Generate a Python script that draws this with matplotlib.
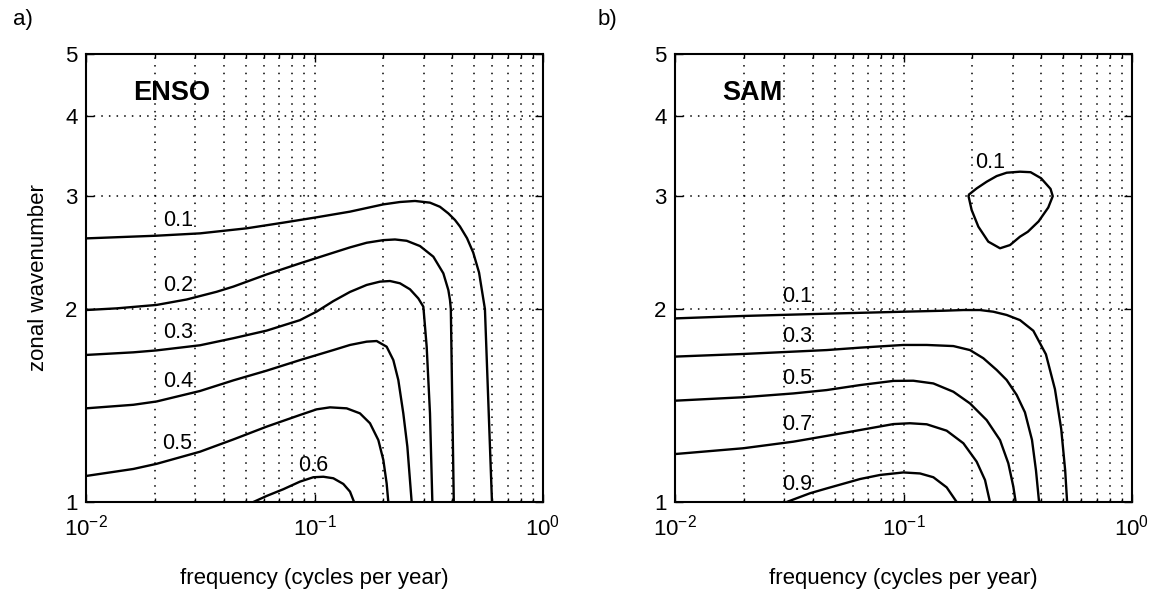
import matplotlib
matplotlib.use("Agg")
import matplotlib.pyplot as plt
from matplotlib.ticker import LogLocator, FixedLocator, NullLocator, FixedFormatter

plt.rcParams['font.family'] = ['Liberation Sans', 'DejaVu Sans']
plt.rcParams['mathtext.fontset'] = 'custom'
plt.rcParams['mathtext.rm'] = 'Liberation Sans'
plt.rcParams['mathtext.it'] = 'Liberation Sans:italic'
plt.rcParams['mathtext.bf'] = 'Liberation Sans:bold'

# ---------------- data (frequency in cycles/yr, zonal wavenumber) ----------------
# ENSO contours
enso_01_f = [0.01, 0.02038, 0.03154, 0.05047, 0.07305, 0.1022, 0.143, 0.2001, 0.2366, 0.2753,
             0.3202, 0.354, 0.3853, 0.412, 0.4333, 0.465, 0.495, 0.525, 0.557, 0.598]
enso_01_k = [2.578, 2.603, 2.625, 2.673, 2.728, 2.781, 2.838, 2.913, 2.938, 2.949,
             2.931, 2.888, 2.82, 2.754, 2.69, 2.58, 2.45, 2.28, 2.0, 1.0]

enso_02_f = [0.01, 0.01362, 0.02038, 0.02758, 0.03729, 0.04414, 0.06176, 0.08641, 0.1209, 0.143,
             0.1692, 0.2001, 0.2251, 0.2532, 0.2895, 0.3312, 0.3663, 0.3853, 0.3917, 0.395,
             0.401, 0.407]
enso_02_k = [1.993, 2.005, 2.030, 2.070, 2.128, 2.168, 2.265, 2.357, 2.449, 2.496,
             2.538, 2.562, 2.568, 2.556, 2.508, 2.414, 2.274, 2.141, 2.066, 2.0,
             1.408, 1.0]

enso_03_f = [0.01, 0.01611, 0.02038, 0.03154, 0.04414, 0.06176, 0.08641, 0.1022, 0.1209, 0.143,
             0.1692, 0.1934, 0.214, 0.2366, 0.2618, 0.2847, 0.2995, 0.3097, 0.3202, 0.3279]
enso_03_k = [1.696, 1.712, 1.724, 1.756, 1.801, 1.851, 1.922, 1.982, 2.058, 2.127,
             2.181, 2.207, 2.212, 2.194, 2.147, 2.078, 2.017, 1.747, 1.375, 1.0]

enso_04_f = [0.01, 0.01611, 0.02038, 0.03154, 0.04414, 0.06176, 0.08641, 0.1209, 0.143, 0.1692,
             0.1871, 0.2069, 0.2213, 0.2327, 0.2447, 0.2549, 0.2662]
enso_04_k = [1.400, 1.418, 1.435, 1.490, 1.548, 1.603, 1.665, 1.726, 1.758, 1.779,
             1.783, 1.747, 1.665, 1.550, 1.375, 1.220, 1.0]

enso_05_f = [0.01, 0.01611, 0.02038, 0.03154, 0.04414, 0.06176, 0.08641, 0.1022, 0.1169, 0.1383,
             0.1581, 0.1749, 0.1903, 0.2001, 0.2069, 0.2104]
enso_05_k = [1.098, 1.126, 1.147, 1.198, 1.252, 1.311, 1.367, 1.395, 1.405, 1.400,
             1.375, 1.327, 1.249, 1.163, 1.069, 1.0]

enso_06_f = [0.054, 0.06176, 0.07305, 0.08641, 0.09883, 0.1093, 0.1209, 0.1337, 0.143, 0.149]
enso_06_k = [1.0, 1.022, 1.047, 1.076, 1.093, 1.095, 1.089, 1.067, 1.038, 1.0]

# SAM contours
sam_01_f = [0.01, 0.01991, 0.04611, 0.0998, 0.1493, 0.1828, 0.2162, 0.2472, 0.2828, 0.3235,
            0.37, 0.42, 0.46, 0.49, 0.51, 0.52]
sam_01_k = [1.934, 1.951, 1.967, 1.981, 1.988, 1.993, 1.993, 1.981, 1.958, 1.922,
            1.85, 1.70, 1.50, 1.30, 1.12, 1.0]

sam_01b_f = [0.1921, 0.209, 0.2312, 0.2557, 0.2828, 0.3235, 0.36, 0.40, 0.44, 0.45,
             0.43, 0.39, 0.35, 0.3235, 0.2925, 0.2645, 0.235, 0.2126, 0.1987, 0.1921]
sam_01b_k = [3.012, 3.085, 3.160, 3.225, 3.264, 3.276, 3.27, 3.20, 3.08, 3.0,
             2.88, 2.74, 2.64, 2.594, 2.517, 2.488, 2.548, 2.689, 2.855, 3.012]

sam_03_f = [0.01, 0.01991, 0.04611, 0.06451, 0.0998, 0.1264, 0.1653, 0.1954, 0.2236, 0.2557,
            0.2828, 0.3128, 0.34, 0.365, 0.38, 0.392]
sam_03_k = [1.686, 1.702, 1.726, 1.741, 1.758, 1.758, 1.751, 1.726, 1.676, 1.607,
            1.550, 1.469, 1.38, 1.25, 1.12, 1.0]

sam_05_f = [0.01, 0.01991, 0.03296, 0.04611, 0.06451, 0.09026, 0.1104, 0.1351, 0.1653, 0.1954,
            0.2312, 0.2645, 0.2876, 0.3024, 0.3097]
sam_05_k = [1.439, 1.457, 1.477, 1.495, 1.522, 1.545, 1.546, 1.531, 1.486, 1.425,
            1.342, 1.249, 1.149, 1.057, 1.0]

sam_07_f = [0.01, 0.01991, 0.03296, 0.04611, 0.06451, 0.09026, 0.1067, 0.1264, 0.1545, 0.1828,
            0.209, 0.2274, 0.239]
sam_07_k = [1.188, 1.213, 1.242, 1.268, 1.295, 1.323, 1.327, 1.322, 1.292, 1.235,
            1.156, 1.082, 1.0]

sam_09_f = [0.03082, 0.039, 0.04611, 0.06451, 0.07889, 0.0998, 0.1181, 0.1351, 0.1545, 0.1709]
sam_09_k = [1.0, 1.032, 1.050, 1.086, 1.102, 1.112, 1.108, 1.093, 1.054, 1.0]

# contour labels: text, frequency, wavenumber
enso_lab_txt = ["0.1", "0.2", "0.3", "0.4", "0.5", "0.6"]
enso_lab_f = [0.0253, 0.0253, 0.0253, 0.0253, 0.025, 0.0985]
enso_lab_k = [2.75, 2.18, 1.84, 1.54, 1.236, 1.142]

sam_lab_txt = ["0.1", "0.1", "0.3", "0.5", "0.7", "0.9"]
sam_lab_f = [0.239, 0.0342, 0.0342, 0.0342, 0.0342, 0.0342]
sam_lab_k = [3.38, 2.09, 1.81, 1.56, 1.32, 1.063]

y_ticks = [1, 2, 3, 4, 5]
y_ticklabels = ["1", "2", "3", "4", "5"]
panel_titles = ["ENSO", "SAM"]
panel_letters = ["a)", "b)"]

enso_lines = [(enso_01_f, enso_01_k), (enso_02_f, enso_02_k), (enso_03_f, enso_03_k),
              (enso_04_f, enso_04_k), (enso_05_f, enso_05_k), (enso_06_f, enso_06_k)]
sam_lines = [(sam_01_f, sam_01_k), (sam_01b_f, sam_01b_k), (sam_03_f, sam_03_k),
             (sam_05_f, sam_05_k), (sam_07_f, sam_07_k), (sam_09_f, sam_09_k)]

# ---------------- figure ----------------
W, H = 1153, 594
fig = plt.figure(figsize=(W / 100, H / 100), dpi=100)
ax1 = fig.add_axes([86 / W, 92 / H, 457 / W, 448 / H])
ax2 = fig.add_axes([675 / W, 92 / H, 457 / W, 448 / H])


def style(ax):
    ax.set_xscale('log')
    ax.set_yscale('log')
    ax.set_xlim(1e-2, 1e0)
    ax.set_ylim(1, 5)
    ax.xaxis.set_major_locator(LogLocator(base=10, numticks=10))
    ax.xaxis.set_minor_locator(LogLocator(base=10, subs=range(2, 10), numticks=10))
    ax.yaxis.set_major_locator(FixedLocator(y_ticks))
    ax.yaxis.set_major_formatter(FixedFormatter(y_ticklabels))
    ax.yaxis.set_minor_locator(NullLocator())
    ax.tick_params(which='both', direction='in', top=True, right=True, labelsize=16, width=1.0)
    ax.tick_params(which='major', length=6)
    ax.tick_params(which='minor', length=3)
    ax.tick_params(axis='x', which='major', pad=9)
    ax.tick_params(axis='y', which='major', pad=6)
    ax.grid(True, which='major', axis='both', color='black', linestyle=(0, (1, 4)), linewidth=1.1)
    ax.grid(True, which='minor', axis='x', color='black', linestyle=(0, (1, 4)), linewidth=1.1)
    for s in ax.spines.values():
        s.set_linewidth(1.5)
    ax.set_xlabel('frequency (cycles per year)', fontsize=16, labelpad=20)


style(ax1)
style(ax2)
ax1.set_ylabel('zonal wavenumber', fontsize=16, labelpad=12)

for f, k in enso_lines:
    ax1.plot(f, k, color='black', linewidth=1.7, solid_capstyle='butt', solid_joinstyle='round')
for f, k in sam_lines:
    ax2.plot(f, k, color='black', linewidth=1.7, solid_capstyle='butt', solid_joinstyle='round')

for t, f, k in zip(enso_lab_txt, enso_lab_f, enso_lab_k):
    ax1.text(f, k, t, fontsize=15.5, ha='center', va='center')
for t, f, k in zip(sam_lab_txt, sam_lab_f, sam_lab_k):
    ax2.text(f, k, t, fontsize=15.5, ha='center', va='center')

ax1.text(0.103, 0.913, panel_titles[0], transform=ax1.transAxes, fontsize=19.5,
         fontweight='bold', ha='left', va='center')
ax2.text(0.103, 0.913, panel_titles[1], transform=ax2.transAxes, fontsize=19.5,
         fontweight='bold', ha='left', va='center')

fig.text(13 / W, 1 - 20 / H, panel_letters[0], fontsize=16, ha='left', va='center')
fig.text(598 / W, 1 - 20 / H, panel_letters[1], fontsize=16, ha='left', va='center')

fig.savefig('out.png', dpi=100)
